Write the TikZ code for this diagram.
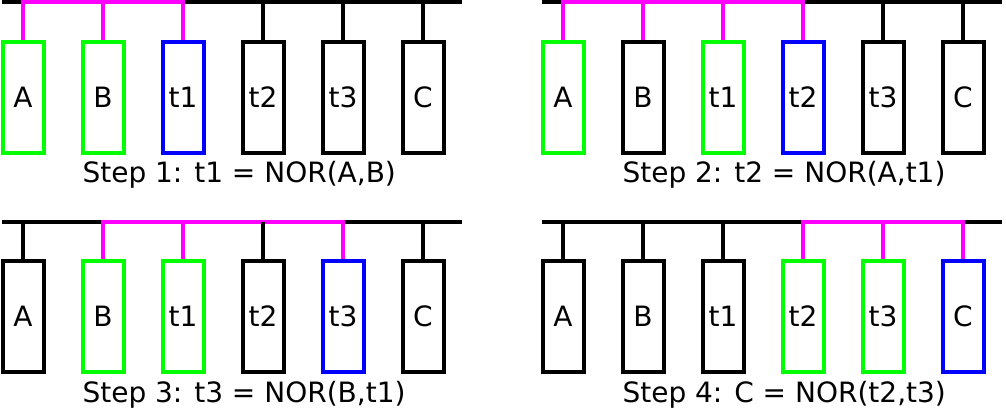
\documentclass[tikz,border=0pt]{standalone}
\usepackage{fontspec}
\setmainfont{DejaVu Sans}
\definecolor{srcgreen}{RGB}{0,255,0}
\definecolor{dstblue}{RGB}{0,0,255}
\definecolor{busmagenta}{RGB}{255,0,255}

\begin{document}
\begin{tikzpicture}[
    x=1pt, y=-1pt,
    every node/.style={font=\fontsize{28}{34}\selectfont},
    cell/.style={
        draw,
        line width=4pt,
        inner sep=0pt,
        minimum width=41pt,
        minimum height=111pt
    },
    bus/.style={line width=4pt, black},
    hot/.style={line width=4pt, busmagenta},
    caption/.style={anchor=base west}
]

    \useasboundingbox (0, 0) rectangle (1006, 410);

    % Step 1 (top left)
    \coordinate (busL1) at (2, 2);
    \coordinate (busR1) at (462, 2);
    \draw[bus] (busL1) -- (busR1);
    \foreach \name/\col [count=\i from 0] in {A/srcgreen, B/srcgreen, t1/dstblue, t2/black, t3/black, C/black} {
        \node[cell, draw=\col] (p1\name) at (23+80*\i, 97) {\name};
    }
    \foreach \name in {t2, t3, C}
        \draw[bus] (p1\name.north) -- (p1\name.north |- busL1);
    \draw[hot] (p1A.north) |- (p1t1.north |- busL1) -- (p1t1.north);
    \draw[hot] (p1B.north) -- (p1B.north |- busL1);
    \node[caption] (cap1) at (79, 182) {Step 1: t1 = NOR(A,B)};

    % Step 2 (top right)
    \coordinate (busL2) at (542, 2);
    \coordinate (busR2) at (1002, 2);
    \draw[bus] (busL2) -- (busR2);
    \foreach \name/\col [count=\i from 0] in {A/srcgreen, B/black, t1/srcgreen, t2/dstblue, t3/black, C/black} {
        \node[cell, draw=\col] (p2\name) at (563+80*\i, 97) {\name};
    }
    \foreach \name in {t3, C}
        \draw[bus] (p2\name.north) -- (p2\name.north |- busL2);
    \draw[hot] (p2A.north) |- (p2t2.north |- busL2) -- (p2t2.north);
    \foreach \name in {B, t1}
        \draw[hot] (p2\name.north) -- (p2\name.north |- busL2);
    \node[caption] (cap2) at (619, 182) {Step 2: t2 = NOR(A,t1)};

    % Step 3 (bottom left)
    \coordinate (busL3) at (2, 222);
    \coordinate (busR3) at (462, 222);
    \draw[bus] (busL3) -- (busR3);
    \foreach \name/\col [count=\i from 0] in {A/black, B/srcgreen, t1/srcgreen, t2/black, t3/dstblue, C/black} {
        \node[cell, draw=\col] (p3\name) at (23+80*\i, 316.5) {\name};
    }
    \draw[hot] (p3B.north) |- (p3t3.north |- busL3) -- (p3t3.north);
    \draw[hot] (p3t1.north) -- (p3t1.north |- busL3);
    \foreach \name in {A, t2, C}
        \draw[bus] (p3\name.north) -- (p3\name.north |- busL3);
    \node[caption] (cap3) at (79, 402) {Step 3: t3 = NOR(B,t1)};

    % Step 4 (bottom right)
    \coordinate (busL4) at (542, 222);
    \coordinate (busR4) at (1002, 222);
    \draw[bus] (busL4) -- (busR4);
    \foreach \name/\col [count=\i from 0] in {A/black, B/black, t1/black, t2/srcgreen, t3/srcgreen, C/dstblue} {
        \node[cell, draw=\col] (p4\name) at (563+80*\i, 316.5) {\name};
    }
    \foreach \name in {A, B, t1}
        \draw[bus] (p4\name.north) -- (p4\name.north |- busL4);
    \draw[hot] (p4t2.north) |- (p4C.north |- busL4) -- (p4C.north);
    \draw[hot] (p4t3.north) -- (p4t3.north |- busL4);
    \node[caption] (cap4) at (619, 402) {Step 4: C = NOR(t2,t3)};

\end{tikzpicture}
\end{document}
